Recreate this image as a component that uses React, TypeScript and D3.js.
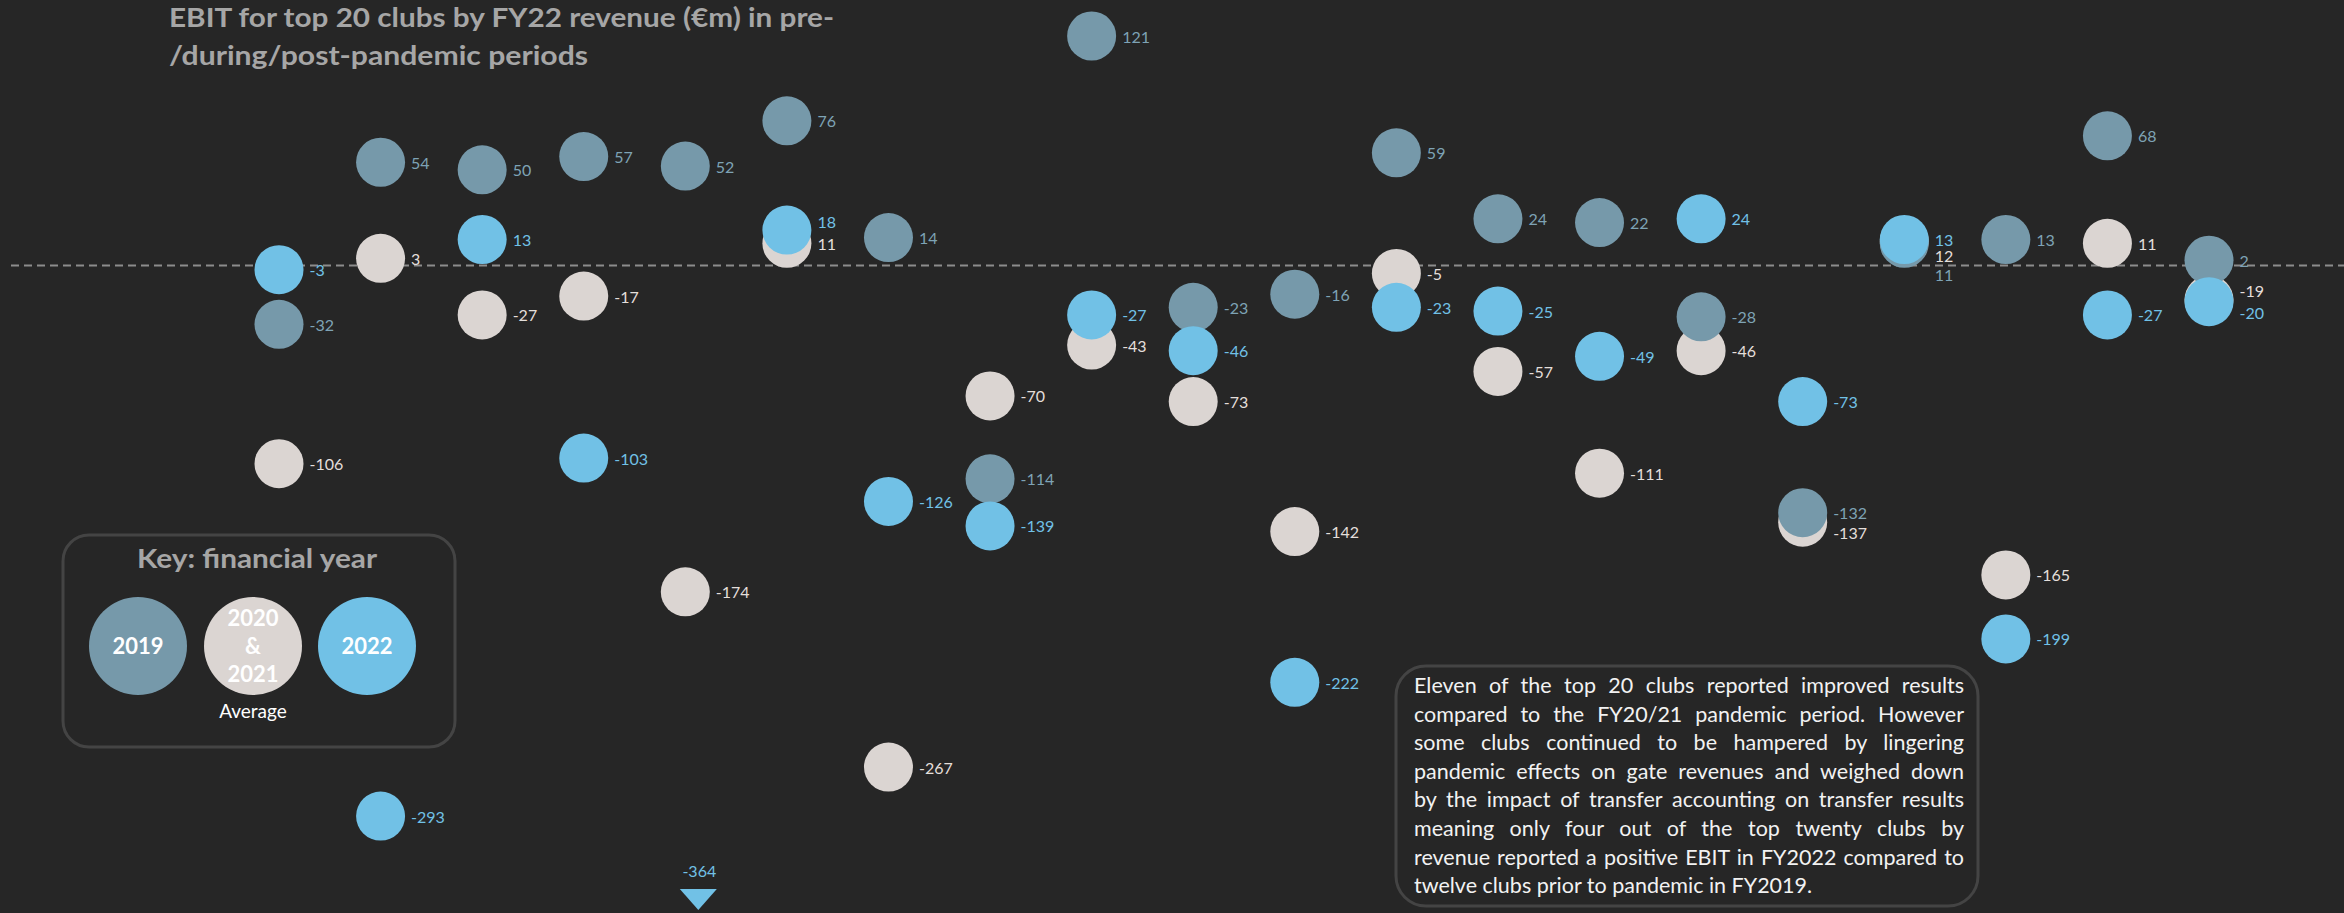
import React, { useEffect, useRef } from "react";
import * as d3 from "d3";

const clubs = [
  "Club 1", "Club 2", "Club 3", "Club 4", "Club 5", "Club 6", "Club 7", "Club 8", "Club 9", "Club 10",
  "Club 11", "Club 12", "Club 13", "Club 14", "Club 15", "Club 16", "Club 17", "Club 18", "Club 19", "Club 20",
];
const fy2019 = [-32, 54, 50, 57, 52, 76, 14, -114, 121, -23, -16, 59, 24, 22, -28, -132, 11, 13, 68, 2];
const fy2020to2021Avg = [-106, 3, -27, -17, -174, 11, -267, -70, -43, -73, -142, -5, -57, -111, -46, -137, 12, -165, 11, -19];
const fy2022 = [-3, -293, 13, -103, -364, 18, -126, -139, -27, -46, -222, -23, -25, -49, 24, -73, 13, -199, -27, -20];

const titleLines = ["EBIT for top 20 clubs by FY22 revenue (€m) in pre-", "/during/post-pandemic periods"];
const legendTitle = "Key: financial year";
const noteLines = [
  "Eleven of the top 20 clubs reported improved results",
  "compared to the FY20/21 pandemic period. However",
  "some clubs continued to be hampered by lingering",
  "pandemic effects on gate revenues and weighed down",
  "by the impact of transfer accounting on transfer results",
  "meaning only four out of the top twenty clubs by",
  "revenue reported a positive EBIT in FY2022 compared to",
  "twelve clubs prior to pandemic in FY2019.",
];

// label nudges (layout only) for overlapping labels: key = series|index
const labelNudge: Record<string, number> = {
  "s2022|5": -9,
  "avg|16": 14,
  "s2019|16": 31,
  "avg|19": -9,
  "s2022|19": 11,
  "avg|15": 10,
};

export default function App() {
  const ref = useRef<SVGSVGElement>(null);
  useEffect(() => {
    const W = 2344, H = 913;
    const svg = d3.select(ref.current);
    svg.selectAll("*").remove();
    const font = "Lato, 'Open Sans', sans-serif";
    svg.append("rect").attr("width", W).attr("height", H).attr("fill", "#262626");

    const x = d3.scalePoint<string>().domain(clubs).range([279, 2209]);
    const y = d3.scaleLinear().domain([0, 121]).range([264, 36]);
    const r = 24.5;

    // zero line
    svg.append("line")
      .attr("x1", 11).attr("x2", W).attr("y1", y(0) + 1.5).attr("y2", y(0) + 1.5)
      .attr("stroke", "#8c8c8c").attr("stroke-width", 2).attr("stroke-dasharray", "8,5");

    // title
    titleLines.forEach((t, i) => {
      svg.append("text").attr("x", 169).attr("y", 27 + i * 38)
        .attr("font-family", font).attr("font-weight", 700).attr("font-size", 26)
        .attr("fill", "#a6a6a6")
        .attr("textLength", i === 0 ? 665 : 419).attr("lengthAdjust", "spacingAndGlyphs")
        .text(t);
    });

    const series = [
      { key: "avg", values: fy2020to2021Avg, fill: "#dbd5d2", label: "#e4dfdb" },
      { key: "s2019", values: fy2019, fill: "#7699aa", label: "#7ea3b5" },
      { key: "s2022", values: fy2022, fill: "#71c1e6", label: "#71c1e6" },
    ];

    const gC = svg.append("g");
    const gL = svg.append("g");
    series.forEach((s) => {
      s.values.forEach((v, i) => {
        const cx = x(clubs[i]) as number;
        const cy = y(v);
        if (cy > H - 30) {
          const tx = cx + 13;
          gC.append("path")
            .attr("d", `M${tx - 18.5},889 L${tx + 18.5},889 L${tx},910 Z`)
            .attr("fill", s.fill);
          gL.append("text").attr("x", tx + 1).attr("y", 877).attr("text-anchor", "middle")
            .attr("font-family", font).attr("font-size", 16).attr("fill", s.label).text(String(v));
          return;
        }
        gC.append("circle").attr("cx", cx).attr("cy", cy).attr("r", r).attr("fill", s.fill);
        const dy = labelNudge[`${s.key}|${i}`] || 0;
        gL.append("text").attr("x", cx + r + 6).attr("y", cy + dy)
          .attr("dominant-baseline", "central")
          .attr("font-family", font).attr("font-size", 16).attr("fill", s.label).text(String(v));
      });
    });

    // legend
    const lg = svg.append("g");
    lg.append("rect").attr("x", 63).attr("y", 535).attr("width", 392).attr("height", 212)
      .attr("rx", 26).attr("fill", "none").attr("stroke", "#444444").attr("stroke-width", 3);
    lg.append("text").attr("x", 257).attr("y", 568).attr("text-anchor", "middle")
      .attr("font-family", font).attr("font-weight", 700).attr("font-size", 27).attr("fill", "#a6a6a6")
      .attr("textLength", 240).attr("lengthAdjust", "spacingAndGlyphs")
      .text(legendTitle);
    const legItems = [
      { cx: 138, fill: "#7699aa", lines: ["2019"] },
      { cx: 253, fill: "#dbd5d2", lines: ["2020", "&", "2021"] },
      { cx: 367, fill: "#71c1e6", lines: ["2022"] },
    ];
    legItems.forEach((it) => {
      lg.append("circle").attr("cx", it.cx).attr("cy", 646).attr("r", 49).attr("fill", it.fill);
      const n = it.lines.length;
      it.lines.forEach((ln, j) => {
        lg.append("text").attr("x", it.cx).attr("y", 654 + (j - (n - 1) / 2) * 28)
          .attr("text-anchor", "middle").attr("font-family", font).attr("font-weight", 700)
          .attr("font-size", 22).attr("fill", "#ffffff").text(ln);
      });
    });
    lg.append("text").attr("x", 253).attr("y", 718).attr("text-anchor", "middle")
      .attr("font-family", font).attr("font-size", 19).attr("fill", "#ffffff").text("Average");

    // note box
    const ng = svg.append("g");
    ng.append("rect").attr("x", 1396).attr("y", 666).attr("width", 582).attr("height", 240)
      .attr("rx", 30).attr("fill", "none").attr("stroke", "#444444").attr("stroke-width", 3);
    noteLines.forEach((line, i) => {
      const t = ng.append("text").attr("x", 1414).attr("y", 693 + i * 28.6)
        .attr("font-family", font).attr("font-size", 21.5).attr("fill", "#f2f2f2").text(line);
      if (i < noteLines.length - 1) {
        const w = (t.node() as SVGTextElement).getComputedTextLength();
        const spaces = line.split(" ").length - 1;
        t.style("word-spacing", `${(550 - w) / spaces}px`);
      }
    });
  }, []);
  return (
    <svg ref={ref} width={2344} height={913} style={{ position: "absolute", left: 0, top: 0, display: "block" }} />
  );
}
